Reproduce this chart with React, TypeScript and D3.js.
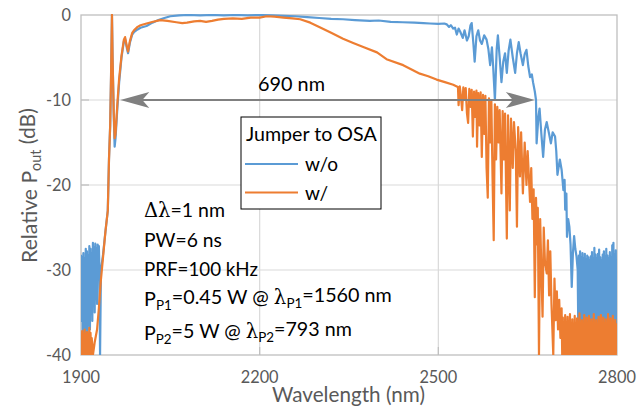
import React, { useLayoutEffect, useRef, useState } from "react";
import * as d3 from "d3";

const xTicks = [1900, 2200, 2500, 2800];
const yTicks = [0, -10, -20, -30, -40];
const xGrid = [2200, 2500];
const yGrid = [-10, -20, -30];

// Jumper to OSA: w/o  (wavelength nm, relative power dB)
const seriesWithout: [number, number][] = [
  [1900,-28.2],[1901,-36],[1902,-28.5],[1903,-39],[1904,-28],[1905,-37],[1906,-28.6],[1907,-39.5],[1908,-27.5],[1909,-35],
  [1910,-27.8],[1911,-38],[1912,-28.3],[1913,-36.5],[1914,-27.2],[1915,-37],[1916,-27.5],[1917,-34],[1918,-28],[1919,-36],
  [1920,-26.8],[1921,-33],[1922,-27.4],[1923,-35],[1924,-26.9],[1925,-32],[1926,-27.5],[1927,-34],[1928,-27],[1929,-31],
  [1930,-27.2],[1931,-30],[1932,-40],[1933.5,-30],[1937,-28.2],[1941,-25.5],[1945,-23],[1947,-17],[1949,-13],[1950.5,-7],
  [1952,0],[1953,-5],[1955,-12],[1956.5,-15.5],[1958,-14.5],[1961,-11],[1964,-8],[1968,-5],[1972,-3.1],[1974,-2.8],
  [1977,-3.9],[1979,-4.5],[1982,-3.3],[1986,-2.3],[1989,-2.0],[1995,-1.7],[2000,-1.5],[2010,-1.3],[2020,-0.9],[2030,-0.6],
  [2040,-0.35],[2050,-0.15],[2065,-0.05],[2080,0],[2100,-0.05],[2120,0],[2140,-0.05],[2160,0],[2180,-0.05],[2200,0],
  [2220,-0.05],[2240,-0.1],[2260,-0.15],[2280,-0.25],[2300,-0.35],[2320,-0.45],[2340,-0.5],[2360,-0.6],[2385,-0.7],[2400,-0.65],
  [2420,-0.8],[2440,-0.85],[2460,-0.9],[2475,-0.95],[2486,-1.0],[2500,-1.05],[2510,-1.0],[2514,-1.1],[2518,-1.4],[2521,-1.2],
  [2525,-1.6],[2528,-1.5],[2531,-2.3],[2534,-1.6],[2537,-2.0],[2541,-2.7],[2544,-1.8],[2548,-3],[2551,-2.5],[2554,-1.2],
  [2556,-0.95],[2559,-3.5],[2561,-5.5],[2564,-2.5],[2567,-1.8],[2570,-3],[2573,-3.4],[2577,-2.4],[2581,-2.9],[2584,-4],
  [2587,-5.9],[2590,-3.8],[2592,-6],[2595,-10],[2598,-4],[2600,-2.4],[2603,-5],[2606,-7.9],[2609,-5.5],[2612,-4.5],
  [2615,-6.8],[2618,-4.2],[2621,-2.9],[2625,-5],[2629,-6.8],[2632,-4.5],[2635,-3.2],[2638,-4.5],[2642,-5.9],[2645,-4.6],
  [2648,-4.1],[2651,-6],[2654,-7.3],[2657,-7],[2659,-7.9],[2662,-9],[2664,-10],[2665,-15.1],[2668,-12],[2670,-11],
  [2673,-14],[2676,-16.7],[2679,-13.5],[2682,-12.6],[2686,-14],[2689,-15.1],[2692,-13.8],[2696,-14.3],[2698,-16],[2700,-18.8],
  [2704,-17],[2707,-18.2],[2710,-20.6],[2712,-19.4],[2713,-22.9],[2715,-21],[2716,-26.1],[2718,-24],[2720,-24.9],[2722,-27],
  [2724,-32],[2726,-28],[2728,-26],[2730,-27.5],[2732,-28.4],[2734,-30],
  [2735,-37],[2736,-28.3],[2737,-37.5],[2738,-27.8],[2739,-36.8],[2740,-28.5],[2741,-37.2],[2742,-28],[2743,-37],[2744,-28.6],
  [2745,-36.5],[2746,-28.1],[2747,-37.4],[2748,-28.8],[2749,-36.9],[2750,-28.3],[2751,-37.3],[2752,-28.5],[2753,-36.6],[2754,-28.9],
  [2755,-37.1],[2756,-28.4],[2757,-36.8],[2758,-27.9],[2759,-37.5],[2760,-28.6],[2761,-36.7],[2762,-27.4],[2763,-37.2],[2764,-28.2],
  [2765,-36.9],[2766,-28.7],[2767,-37.4],[2768,-28.1],[2769,-36.6],[2770,-27.6],[2771,-37],[2772,-28.5],[2773,-36.8],[2774,-28.9],
  [2775,-37.3],[2776,-28.2],[2777,-36.7],[2778,-27.8],[2779,-37.1],[2780,-28.4],[2781,-36.9],[2782,-27.5],[2783,-37.4],[2784,-28.3],
  [2785,-36.6],[2786,-28.6],[2787,-37.2],[2788,-27.9],[2789,-36.8],[2790,-28.5],[2791,-37],[2792,-27.1],[2793,-37.3],[2794,-26.8],
  [2795,-36.7],[2796,-28.2],[2797,-37.1],[2798,-27.7],[2799,-36.9],[2800,-29.5],
];

// Jumper to OSA: w/
const seriesWith: [number, number][] = [
  [1900,-37.5],[1901,-40],[1902,-37.2],[1903,-40],[1904,-37.8],[1905,-40],[1906,-37],[1907,-40],[1908,-37.6],[1909,-40],
  [1910,-37.3],[1911,-40],[1912,-37.9],[1913,-40],[1914,-36.8],[1915,-40],[1916,-37.4],[1917,-40],[1918,-38],[1920,-40],
  [1923,-38.5],[1927,-37],[1930,-34.5],[1933,-31.5],[1937,-28.5],[1941,-25.5],[1945,-23],[1947,-17],[1949,-13],[1950.5,-7],
  [1952,0],[1953,-5],[1955,-11.5],[1956.5,-14.5],[1958,-14],[1961,-10.5],[1964,-7.5],[1968,-4.8],[1972,-2.9],[1974,-2.6],
  [1977,-3.7],[1979,-4.3],[1982,-3.1],[1986,-2.1],[1989,-1.8],[1995,-1.4],[2000,-1.2],[2010,-1.0],[2021,-0.8],[2033,-0.6],
  [2045,-0.7],[2060,-0.85],[2070,-0.95],[2078,-0.9],[2090,-0.75],[2100,-0.7],[2110,-0.8],[2120,-0.7],[2130,-0.55],[2140,-0.45],
  [2155,-0.4],[2170,-0.45],[2185,-0.3],[2200,-0.3],[2212,-0.15],[2225,-0.2],[2240,-0.3],[2255,-0.4],[2268,-0.5],[2285,-0.9],
  [2300,-1.4],[2320,-2.1],[2340,-2.8],[2357,-3.3],[2375,-3.8],[2397,-4.4],[2413,-5.2],[2441,-5.9],[2455,-6.4],[2469,-6.9],
  [2483,-7.2],[2497,-7.6],[2511,-7.9],[2525,-8.2],[2531,-8.4],
  [2533,-8.5],[2534,-10.6],[2536,-8.4],[2538,-9.6],[2540,-11.2],[2542,-8.5],[2544,-10],[2546,-8.6],[2548,-11.5],[2550,-12.7],
  [2552,-8.7],[2554,-10.8],[2556,-8.8],[2558,-14.3],[2560,-9],[2562,-12],[2564,-8.9],[2565,-15.5],[2567,-9.2],[2569,-13],
  [2571,-9.1],[2573,-16.7],[2575,-9.4],[2577,-14],[2579,-9.5],[2581,-18],[2583,-21.5],[2585,-9.8],[2587,-15],[2589,-10],
  [2591,-19],[2593,-26.5],[2595,-10.5],[2597,-17],[2599,-10.8],[2601,-15],[2603,-11.2],[2606,-21],[2608,-11.3],[2610,-17],
  [2612,-11.6],[2615,-26.3],[2617,-11.8],[2620,-23],[2622,-12.2],[2625,-18],[2627,-12.6],[2630,-16],[2632,-24.9],[2634,-13.2],
  [2637,-19],[2639,-13.8],[2642,-21],[2645,-15],[2648,-20],[2650,-16],[2652,-19],[2654,-22],[2656,-18],[2658,-24],
  [2660,-20.5],[2662,-33.2],[2664,-21.5],[2666,-27],[2667,-22.7],[2669,-40],[2671,-24],[2673,-30],[2675,-35.5],[2677,-25],
  [2679,-29],[2682,-30.4],[2684,-26.5],[2686,-33],[2688,-27.8],[2690,-34],[2693,-40],[2695,-31],[2697,-35.9],[2699,-32.5],
  [2701,-37],[2703,-33.5],[2705,-38],[2707,-34.5],[2708,-40],
  [2709,-35.6],[2710,-40],[2711,-36.2],[2712,-40],[2713,-35.3],[2714,-40],[2715,-36.8],[2716,-40],[2717,-35.5],[2718,-40],
  [2719,-36],[2720,-40],[2721,-35.2],[2722,-40],[2723,-36.5],[2724,-40],[2725,-35.8],[2726,-40],[2727,-36.9],[2728,-40],
  [2729,-35.4],[2730,-40],[2731,-36.3],[2732,-40],[2733,-35.7],[2734,-40],[2735,-36.6],[2736,-40],[2737,-35.1],[2738,-40],
  [2739,-36.4],[2740,-40],[2741,-35.9],[2742,-40],[2743,-36.7],[2744,-40],[2745,-35.3],[2746,-40],[2747,-36.1],[2748,-40],
  [2749,-35.6],[2750,-40],[2751,-36.8],[2752,-40],[2753,-35.4],[2754,-40],[2755,-36.2],[2756,-40],[2757,-35.8],[2758,-40],
  [2759,-36.6],[2760,-40],[2761,-35.2],[2762,-40],[2763,-36.4],[2764,-40],[2765,-35.9],[2766,-40],[2767,-36.9],[2768,-40],
  [2769,-35.5],[2770,-40],[2771,-36.1],[2772,-40],[2773,-35.3],[2774,-40],[2775,-36.7],[2776,-40],[2777,-35.6],[2778,-40],
  [2779,-36.3],[2780,-40],[2781,-35.8],[2782,-40],[2783,-36.5],[2784,-40],[2785,-35.2],[2786,-40],[2787,-36],[2788,-40],
  [2789,-35.7],[2790,-40],[2791,-36.6],[2792,-40],[2793,-35.4],[2794,-40],[2795,-36.2],[2796,-40],[2797,-35.9],[2798,-40],
  [2799,-36.4],[2800,-37],
];

const arrowSpan = [1966, 2662];
const arrowLevel = -10;
const arrowLabel = "690 nm";
const legendTitle = "Jumper to OSA";
const legendLabels = ["w/o", "w/"];
const colors = ["#5B9BD5", "#ED7D31"];

const W = 637, H = 417;
const M = { left: 81, right: 617, top: 15, bottom: 355 };
const FONT = "Lato, 'Open Sans', sans-serif";
const GREEK = "'DejaVu Serif', 'Liberation Serif', serif";

// widths (px) the texts occupy in the reference, used to fit the font size
const fitWidths: Record<string, number> = {
  tick: 38, xtitle: 153, ytitle: 155, legend: 131, wo: 33, span: 67,
  a1: 81, a2: 78, a3: 114, a4: 248, a5: 208,
};

export default function App() {
  const refs = useRef<Record<string, SVGTextElement | null>>({});
  const [k, setK] = useState<Record<string, number>>({});
  useLayoutEffect(() => {
    const fit = () => {
      const s: Record<string, number> = {};
      for (const key of Object.keys(fitWidths)) {
        const el = refs.current[key];
        if (el) {
          const w = el.getBBox().width;
          if (w > 0) s[key] = fitWidths[key] / w;
        }
      }
      setK(s);
    };
    fit();
  }, []);
  const fs = (key: string, base: number) => base * (k[key] ?? 1);
  const reg = (key: string) => (el: SVGTextElement | null) => { refs.current[key] = el; };

  const x = d3.scaleLinear().domain([1900, 2800]).range([M.left, M.right]);
  const y = d3.scaleLinear().domain([-40, 0]).range([M.bottom, M.top]);
  const line = d3.line<[number, number]>().x(d => x(d[0])).y(d => y(d[1]));
  const ay = y(arrowLevel);
  const ax0 = x(arrowSpan[0]);
  const ax1 = x(arrowSpan[1]);
  const head = (tip: number, dir: number) => {
    const back = tip - dir * 29;
    const notch = tip - dir * 22;
    return `M${tip},${ay} L${back},${ay - 8} L${notch},${ay} L${back},${ay + 8} Z`;
  };
  const gray = "#595959";
  const sub = { fontSize: "0.68em" };
  return (
    <svg width={W} height={H} style={{ position: "fixed", left: 0, top: 0, background: "#fff" }} fontFamily={FONT}>
      <defs>
        <clipPath id="plotclip">
          <rect x={M.left} y={M.top - 1} width={M.right - M.left} height={M.bottom - M.top + 1} />
        </clipPath>
      </defs>
      {yGrid.map(v => (
        <line key={"gy" + v} x1={M.left} x2={M.right} y1={y(v)} y2={y(v)} stroke="#D9D9D9" strokeWidth={1.2} />
      ))}
      {xGrid.map(v => (
        <line key={"gx" + v} y1={M.top} y2={M.bottom} x1={x(v)} x2={x(v)} stroke="#D9D9D9" strokeWidth={1.2} />
      ))}
      {yGrid.map(v => (
        <line key={"ty" + v} x1={M.left} x2={M.left + 8} y1={y(v)} y2={y(v)} stroke="#BFBFBF" strokeWidth={1.2} />
      ))}
      {xGrid.map(v => (
        <line key={"tx" + v} y1={M.bottom - 8} y2={M.bottom} x1={x(v)} x2={x(v)} stroke="#BFBFBF" strokeWidth={1.2} />
      ))}
      <rect x={M.left} y={M.top} width={M.right - M.left} height={M.bottom - M.top} fill="none" stroke="#BFBFBF" strokeWidth={1.3} />
      <g clipPath="url(#plotclip)" fill="none" strokeWidth={2.2} strokeLinejoin="round">
        <path d={line(seriesWithout) || ""} stroke={colors[0]} />
        <path d={line(seriesWith) || ""} stroke={colors[1]} />
      </g>
      <line x1={ax0 + 20} x2={ax1 - 20} y1={ay} y2={ay} stroke="#808080" strokeWidth={2.2} />
      <path d={head(ax0, -1)} fill="#808080" />
      <path d={head(ax1, 1)} fill="#808080" />
      <text ref={reg("span")} x={291.5} y={91} fontSize={fs("span", 19)} fill="#000" textAnchor="middle">{arrowLabel}</text>
      {yTicks.map(v => (
        <text key={"yl" + v} x={71} y={y(v) + 6} fontSize={fs("tick", 17)} fill={gray} textAnchor="end">{v}</text>
      ))}
      {xTicks.map(v => (
        <text key={"xl" + v} ref={v === 2500 ? reg("tick") : undefined} x={x(v)} y={383} fontSize={fs("tick", 17)} fill={gray} textAnchor="middle">{v}</text>
      ))}
      <text ref={reg("xtitle")} x={348.5} y={402} fontSize={fs("xtitle", 19)} fill={gray} textAnchor="middle">Wavelength (nm)</text>
      <text ref={reg("ytitle")} transform="translate(37,185.5) rotate(-90)" fontSize={fs("ytitle", 19)} fill={gray} textAnchor="middle">
        Relative P<tspan style={sub} dy="0.3em">out</tspan><tspan dy="-0.3em"> (dB)</tspan>
      </text>
      <rect x={241} y={117} width={140} height={92} fill="#fff" stroke="#000" strokeWidth={1} />
      <text ref={reg("legend")} x={246} y={141} fontSize={fs("legend", 19)} fill="#000">{legendTitle}</text>
      {legendLabels.map((l, i) => (
        <g key={l}>
          <line x1={245} x2={298} y1={164 + i * 28.5} y2={164 + i * 28.5} stroke={colors[i]} strokeWidth={2.2} />
          <text ref={i === 0 ? reg("wo") : undefined} x={305} y={171 + i * 28.5} fontSize={fs("wo", 19)} fill="#000">{l}</text>
        </g>
      ))}
      <g fill="#000">
        <text ref={reg("a1")} x={144} y={217} fontSize={fs("a1", 19)}><tspan fontFamily={GREEK}>Δλ</tspan>=1 nm</text>
        <text ref={reg("a2")} x={144} y={247} fontSize={fs("a2", 19)}>PW=6 ns</text>
        <text ref={reg("a3")} x={144} y={276} fontSize={fs("a3", 19)}>PRF=100 kHz</text>
        <text ref={reg("a4")} x={144} y={306} fontSize={fs("a4", 19)}>
          P<tspan style={sub} dy="0.32em">P1</tspan><tspan dy="-0.32em">=0.45 W @ </tspan><tspan fontFamily={GREEK}>λ</tspan><tspan style={sub} dy="0.32em">P1</tspan><tspan dy="-0.32em">=1560 nm</tspan>
        </text>
        <text ref={reg("a5")} x={144} y={340} fontSize={fs("a5", 19)}>
          P<tspan style={sub} dy="0.32em">P2</tspan><tspan dy="-0.32em">=5 W @ </tspan><tspan fontFamily={GREEK}>λ</tspan><tspan style={sub} dy="0.32em">P2</tspan><tspan dy="-0.32em">=793 nm</tspan>
        </text>
      </g>
    </svg>
  );
}
